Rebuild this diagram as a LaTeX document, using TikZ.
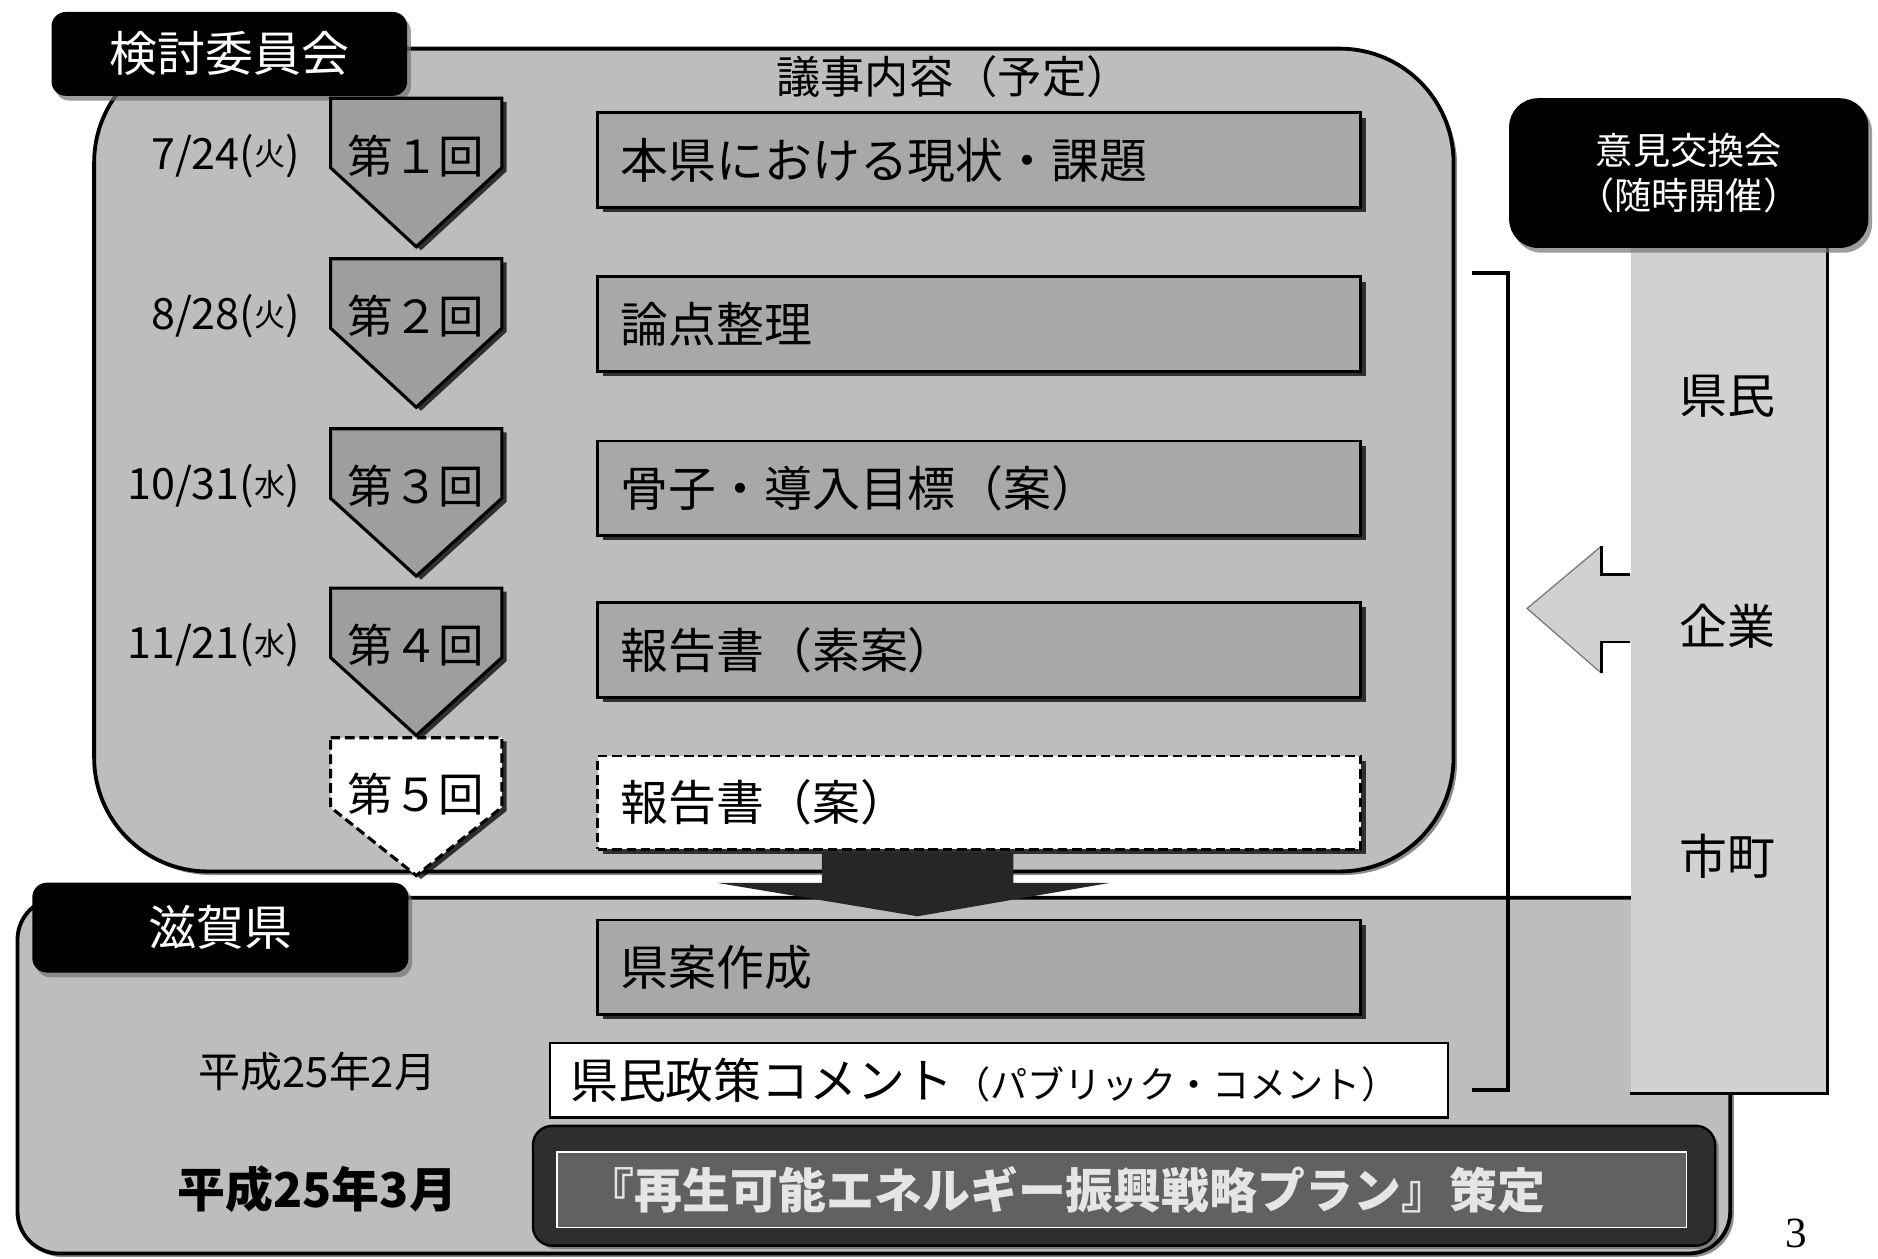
\documentclass[tikz,border=0pt]{standalone}
\usepackage{fontspec}
\setmainfont{Noto Sans CJK JP}
\newfontfamily\serifnum{Liberation Serif}
\usetikzlibrary{shadows,calc}
\newcommand\pentbadge[4]{% style, top, shoulder offset, tip offset
  \draw[#1] (276,#2) -- (419,#2) -- (419,{#2+#3}) -- (347.5,{#2+#4}) -- (276,{#2+#3}) -- cycle;}
\newcommand\kakko[1]{(\raisebox{1.4pt}{\fontsize{13}{13}\selectfont #1})}
\begin{document}
\begin{tikzpicture}[x=0.5pt, y=-0.5pt,
  fnt/.style={font=\fontsize{#1}{#1}\selectfont},
  bfnt/.style={font=\fontsize{#1}{#1}\selectfont\bfseries},
  panel/.style={draw=black, line width=1.6pt, fill=black!26, inner sep=0pt, anchor=north west,
    drop shadow={shadow xshift=1.5pt, shadow yshift=-1.5pt, fill=black, opacity=.45}},
  blabel/.style={fill=black, text=white, rounded corners=6pt, inner sep=0pt,
    drop shadow={shadow xshift=1.5pt, shadow yshift=-2pt, fill=black!55, opacity=.7}},
  agenda/.style={draw=black, line width=1.1pt, fill=black!34, anchor=north west,
    minimum height=39.5pt, text width=299.5pt, inner xsep=9.5pt, inner ysep=0pt, align=left, fnt=20,
    drop shadow={shadow xshift=2pt, shadow yshift=-2pt, fill=black, opacity=.75}},
  agendanext/.style={agenda, fill=white, minimum height=39pt, dash pattern=on 4pt off 2pt},
  pent/.style={draw=black, line width=1.3pt, fill=black!38,
    drop shadow={shadow xshift=2pt, shadow yshift=-1.5pt, fill=black, opacity=.75}},
  pentnext/.style={pent, fill=white, dash pattern=on 4pt off 2pt},
  datef/.style={fnt=18, anchor=east, inner sep=0pt},
  colfill/.style={fill=black!18, draw=none, inner sep=0pt, anchor=north west},
  edge/.style={draw=black, line width=1.4pt},
]
\useasboundingbox (0,0) rectangle (1568,1051);

% panels
\node[panel, rounded corners=17.5pt, minimum width=715pt, minimum height=148.5pt] (botpanel) at (13,748) {};
\node[panel, rounded corners=47.5pt, minimum width=567.5pt, minimum height=343.5pt] (toppanel) at (77,39) {};

% column of participants
\node[colfill, minimum width=82pt, minimum height=356pt] (col) at (1361,200) {};
\draw[edge] (col.north east) -- (col.south east) -- (col.south west);

% bracket
\coordinate (bt) at (1229,228);
\coordinate (bb) at (1229,910);
\draw[line width=1.6pt] (bt) -- ++(30,0) |- (bb);

% left arrow from column
\coordinate (atip) at (1275,508);
\path (col.west |- atip) coordinate (abase);
\fill[black!18] ($(abase)+(2,-28)$) -- ($(abase)+(-24,-28)$) -- ($(abase)+(-24,-52)$) -- (atip)
   -- ($(abase)+(-24,54)$) -- ($(abase)+(-24,28)$) -- ($(abase)+(2,28)$) -- cycle;
\draw[black!55, line width=0.5pt] ($(abase)+(-24,-52)$) -- (atip) -- ($(abase)+(-24,54)$);
\draw[line width=1.2pt] (abase|-0,480) -- (1337,480) -- (1337,456);
\draw[line width=1.2pt] (abase|-0,536) -- (1337,536) -- (1337,562);

% labels
\node[blabel, minimum width=148.5pt, minimum height=35pt, fnt=20] (kentou) at (191.5,45) {検討委員会};
\node[blabel, minimum width=157pt, minimum height=37.5pt, fnt=20] (shiga) at (184,774.5) {滋賀県};
\node[blabel, rounded corners=12pt, minimum width=150pt, minimum height=62.5pt, align=center,
      font=\fontsize{15.5}{19}\selectfont] (iken) at (1410,144.5) {意見交換会\\（随時開催）};

\node[fnt=18.5] (head) at (796,64) {議事内容（予定）};

% agenda boxes
\node[agenda] (b1) at (498,93) {本県における現状・課題};
\node[agenda] (b2) at (498,230) {論点整理};
\node[agenda] (b3) at (498,367) {骨子・導入目標（案）};
\node[agenda] (b4) at (498,502) {報告書（素案）};
\node[agendanext] (b5) at (498,630) {報告書（案）};
\node[agenda] (b6) at (498,767) {県案作成};

% pentagons
\pentbadge{pent}{82}{58}{124}
\pentbadge{pent}{216}{58}{124}
\pentbadge{pent}{358}{58}{123}
\pentbadge{pent}{491}{58}{123}
\pentbadge{pentnext}{616}{58}{115}
\node[fnt=19] (p1) at (347.5,130) {第１回};
\node[fnt=19] (p2) at (347.5,264) {第２回};
\node[fnt=19] (p3) at (347.5,406) {第３回};
\node[fnt=19] (p4) at (347.5,539) {第４回};
\node[fnt=19] (p5) at (347.5,663) {第５回};

% dates
\node[datef] (d1) at (251,130) {7/24\kakko{火}};
\node[datef] (d2) at (251,264) {8/28\kakko{火}};
\node[datef] (d3) at (251,406) {10/31\kakko{水}};
\node[datef] (d4) at (251,539) {11/21\kakko{水}};

% merge arrow
\coordinate (mt) at ($(b5.south)+(-51.5,0)$);
\coordinate (mh) at ($(b6.north)+(-51.5,-2)$);
\fill[black!85] ($(mt)+(-80,1.5)$) -- ($(mt)+(80,1.5)$) -- ($(mt)+(80,27)$) -- ($(mt)+(160,27)$)
   -- (mh) -- ($(mt)+(-167,27)$) -- ($(mt)+(-80,27)$) -- cycle;

% public comment
\node[draw=black, line width=1pt, fill=white, anchor=north west, minimum height=31pt,
      text width=358pt, inner xsep=8.5pt, inner ysep=0pt, align=left] (pc) at (458,870)
      {{\fontsize{20}{20}\selectfont 県民政策コメント}{\fontsize{15.5}{15.5}\selectfont （パブリック・コメント）}};

% final plan
\node[fill=black!82, draw=black, line width=1pt, rounded corners=8pt, minimum width=493.5pt, minimum height=50pt,
      drop shadow={shadow xshift=1.5pt, shadow yshift=-1.5pt, fill=black!60, opacity=.7}] (plan) at (938.5,990) {};
\node[draw=white!60, line width=0.6pt, fill=black!62, minimum width=471.5pt, minimum height=31.5pt,
      text width=446.5pt, inner xsep=12.5pt, inner ysep=0pt, align=left, text=white!90!black, bfnt=20]
      (plani) at (936.5,993.5) {『再生可能エネルギー振興戦略プラン』策定};

% dates in prefecture panel
\node[fnt=17.5] (feb) at (265,895) {平成25年2月};
\node[bfnt=20] (mar) at (265,993) {平成25年3月};

% participants
\node[fnt=20] (kenmin) at (1442,331) {県民};
\node[fnt=20] (kigyo) at (1442,523) {企業};
\node[fnt=20] (shicho) at (1442,715) {市町};

% page number
\node[font=\serifnum\fontsize{18}{18}\selectfont, inner sep=0pt] (pg) at (1500,1030) {3};
\end{tikzpicture}
\end{document}
